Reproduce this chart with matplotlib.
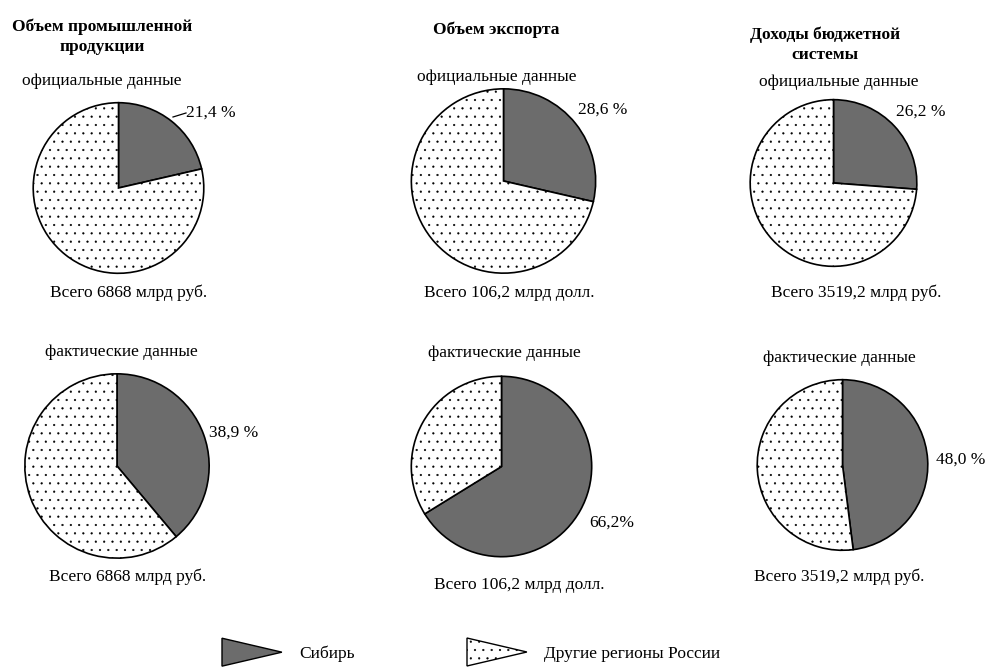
import matplotlib
matplotlib.use("Agg")
import matplotlib.pyplot as plt
from matplotlib.patches import Patch, Polygon
from matplotlib.legend_handler import HandlerPatch

plt.rcParams['font.family'] = ['Liberation Serif', 'DejaVu Serif']
plt.rcParams['hatch.linewidth'] = 0.35

W, H = 986, 668

titles = ["Объем промышленной\nпродукции", "Объем экспорта", "Доходы бюджетной\nсистемы"]
official = [21.4, 28.6, 26.2]
actual = [38.9, 66.2, 48.0]
totals = ["Всего 6868 млрд руб.", "Всего 106,2 млрд долл.", "Всего 3519,2 млрд руб."]
official_fmt = ["{:.1f} %", "{:.1f} %", "{:.1f} %"]
actual_fmt = ["{:.1f} %", "{:.1f}%", "{:.1f} %"]
legend_names = ["Сибирь", "Другие регионы России"]

SIB_COLOR = '#6c6c6c'
OTHER_COLOR = 'white'
FS = 12.5

fig = plt.figure(figsize=(W / 100, H / 100), dpi=100)


def fx(x):
    return x / W


def fy(y):
    return 1 - y / H


def pie_at(cx, cy, r, share):
    ax = fig.add_axes([fx(cx - r), fy(cy + r), 2 * r / W, 2 * r / H])
    wedges, _ = ax.pie([share, 100 - share], startangle=90, counterclock=False,
                       colors=[SIB_COLOR, OTHER_COLOR], radius=1,
                       wedgeprops=dict(edgecolor='black', linewidth=1.2))
    wedges[1].set_hatch('..')
    ax.set_xlim(-1.02, 1.02)
    ax.set_ylim(-1.02, 1.02)
    ax.set_aspect('equal')
    ax.axis('off')
    return ax


# layout in pixels (centers, radii)
top_pies = [(118.5, 188, 87), (503.5, 181, 94), (833.5, 183, 85)]
bot_pies = [(117, 466, 94), (501.5, 466.5, 92), (842.5, 465, 87)]

title_pos = [(102, 36.5), (496, 30), (825, 45)]
off_sub = [(102, 81), (497, 77), (839, 82)]
act_sub = [(121, 352), (504, 353), (839, 358)]
tot_top = [(129, 293), (509, 293), (856, 293)]
tot_bot = [(128, 577), (519, 585), (839, 577)]
lab_top = [(211, 113), (603, 110), (921, 112)]
lab_bot = [(234, 433), (612, 523), (961, 460)]

for i in range(3):
    cx, cy, r = top_pies[i]
    pie_at(cx, cy, r, official[i])
    cx, cy, r = bot_pies[i]
    pie_at(cx, cy, r, actual[i])

    fig.text(fx(title_pos[i][0]), fy(title_pos[i][1]), titles[i], ha='center', va='center',
             multialignment='center', fontsize=FS, fontweight='bold', linespacing=1.3)
    fig.text(fx(off_sub[i][0]), fy(off_sub[i][1]), "официальные данные", ha='center', va='center', fontsize=FS)
    fig.text(fx(act_sub[i][0]), fy(act_sub[i][1]), "фактические данные", ha='center', va='center', fontsize=FS)
    fig.text(fx(tot_top[i][0]), fy(tot_top[i][1]), totals[i], ha='center', va='center', fontsize=FS)
    fig.text(fx(tot_bot[i][0]), fy(tot_bot[i][1]), totals[i], ha='center', va='center', fontsize=FS)
    fig.text(fx(lab_top[i][0]), fy(lab_top[i][1]), official_fmt[i].format(official[i]).replace('.', ','),
             ha='center', va='center', fontsize=FS)
    fig.text(fx(lab_bot[i][0]), fy(lab_bot[i][1]), actual_fmt[i].format(actual[i]).replace('.', ','),
             ha='center', va='center', fontsize=FS)

# leader line for the first label
fig.add_artist(plt.Line2D([fx(173), fx(186)], [fy(117), fy(113)], color='black', linewidth=0.9))


class HandlerTriangle(HandlerPatch):
    def create_artists(self, legend, orig_handle, xdescent, ydescent, width, height, fontsize, trans):
        tri = Polygon([[-xdescent, -ydescent - 0.65 * height],
                       [-xdescent + width, -ydescent + 0.5 * height],
                       [-xdescent, -ydescent + 1.65 * height]], closed=True)
        self.update_prop(tri, orig_handle, legend)
        tri.set_transform(trans)
        return [tri]


handles = [Patch(facecolor=SIB_COLOR, edgecolor='black', linewidth=1.0),
           Patch(facecolor=OTHER_COLOR, edgecolor='black', linewidth=1.0, hatch='..')]
legend_x = [222, 467]
for h, name, lx in zip(handles, legend_names, legend_x):
    fig.legend([h], [name], loc='center left', bbox_to_anchor=(fx(lx), fy(654)),
               frameon=False, fontsize=FS, handlelength=3.45, handletextpad=1.0,
               borderpad=0, borderaxespad=0,
               handler_map={Patch: HandlerTriangle()})

fig.savefig("out.png", dpi=100, facecolor='white')
